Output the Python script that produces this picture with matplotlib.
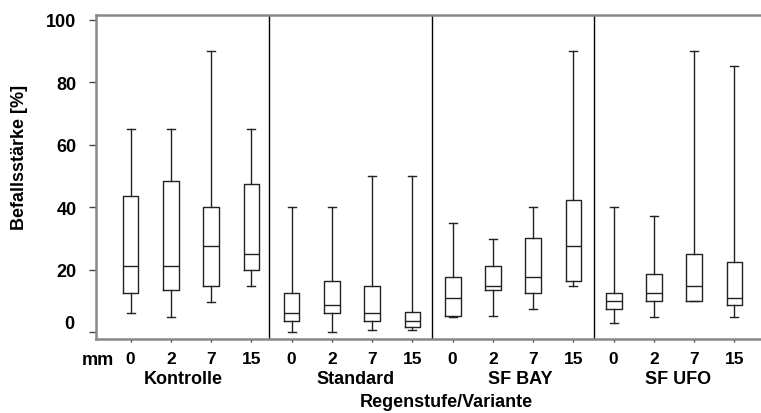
import matplotlib
matplotlib.use("Agg")
import matplotlib.pyplot as plt

plt.rcParams['font.family'] = ['Liberation Sans', 'DejaVu Sans']
plt.rcParams['font.weight'] = 'bold'

# Varianten und Regenstufen
groups = ['Kontrolle', 'Standard', 'SF BAY', 'SF UFO']
rain = ['0', '2', '7', '15']

# Boxplot-Kennwerte je Box (Reihenfolge: Kontrolle 0,2,7,15, Standard ..., SF BAY ..., SF UFO ...)
whislo = [6.2, 4.9, 9.8, 14.9,   0.0, 0.0, 0.7, 0.7,   4.8, 5.2, 7.6, 14.9,   2.9, 4.8, 9.9, 4.8]
q1 =     [12.5, 13.7, 14.9, 20.0, 3.7, 6.2, 3.7, 1.6,  5.4, 13.7, 12.5, 16.3, 7.6, 9.9, 9.9, 8.7]
med =    [21.3, 21.3, 27.5, 25.0, 6.2, 8.7, 6.2, 3.7,  11.1, 14.9, 17.6, 27.5, 9.9, 12.5, 14.9, 11.1]
q3 =     [43.7, 48.5, 40.0, 47.4, 12.5, 16.3, 14.9, 6.4, 17.6, 21.3, 30.1, 42.5, 12.5, 18.7, 25.1, 22.4]
whishi = [65.0, 65.0, 90.0, 65.0, 40.0, 40.0, 50.0, 50.0, 35.0, 29.9, 40.0, 90.0, 40.0, 37.3, 90.0, 85.1]

yticks = [0, 20, 40, 60, 80, 100]

stats = []
for i in range(len(med)):
    stats.append({'whislo': whislo[i], 'q1': q1[i], 'med': med[i],
                  'q3': q3[i], 'whishi': whishi[i], 'fliers': []})

fig = plt.figure(figsize=(7.61, 4.14), dpi=100)
ax = fig.add_axes([96 / 761, 1 - 340 / 414, 1 - 96 / 761, (340 - 15.7) / 414])

positions = list(range(len(stats)))
line = dict(color='#222222', linewidth=1.0)
ax.bxp(stats, positions=positions, widths=0.39, showfliers=False,
       boxprops=line, whiskerprops=line, capprops=line,
       medianprops=dict(color='#222222', linewidth=1.0), capwidths=0.2)

ax.set_xlim(-0.86, 15.66)
ax.set_ylim(-2.1, 101.6)

# Trennlinien zwischen den Varianten
for sep in [3.45, 7.48, 11.5]:
    ax.axvline(sep, color='black', linewidth=1.0)

for side in ['left', 'bottom', 'top']:
    ax.spines[side].set_color('#888888')
    ax.spines[side].set_linewidth(1.8)
ax.spines['right'].set_visible(False)

# die Null steht im Original etwas hoeher als ihr Strich
ax.set_yticks(yticks)
ax.set_yticklabels([''] + [str(v) for v in yticks[1:]], fontsize=13, fontweight='bold')
ax.text(-0.033, yticks[0] + 2.7, str(yticks[0]), transform=ax.get_yaxis_transform(),
        ha='right', va='center', fontsize=13, fontweight='bold')
ax.tick_params(axis='y', direction='out', length=5, width=1.0, color='#444444', pad=9)

ax.set_xticks(positions)
ax.set_xticklabels(rain * len(groups), fontsize=12.5, fontweight='bold')
ax.tick_params(axis='x', direction='out', length=2.5, width=1.0, color='#444444', pad=6)

ax.set_ylabel('Befallsstärke [%]', fontsize=13, fontweight='bold')
ax.yaxis.set_label_coords(-0.102, 0.564)

ax.text(-0.81, -0.062, 'mm', transform=ax.get_xaxis_transform(), ha='center', va='center',
        fontsize=13, fontweight='bold')

label_x = [1.3, 5.58, 9.69, 13.6]
for gx, name in zip(label_x, groups):
    ax.text(gx, -0.123, name, transform=ax.get_xaxis_transform(), ha='center', va='center',
            fontsize=13, fontweight='bold')

ax.text(7.84, -0.192, 'Regenstufe/Variante', transform=ax.get_xaxis_transform(),
        ha='center', va='center', fontsize=13, fontweight='bold')

fig.savefig('out.png', dpi=100)
